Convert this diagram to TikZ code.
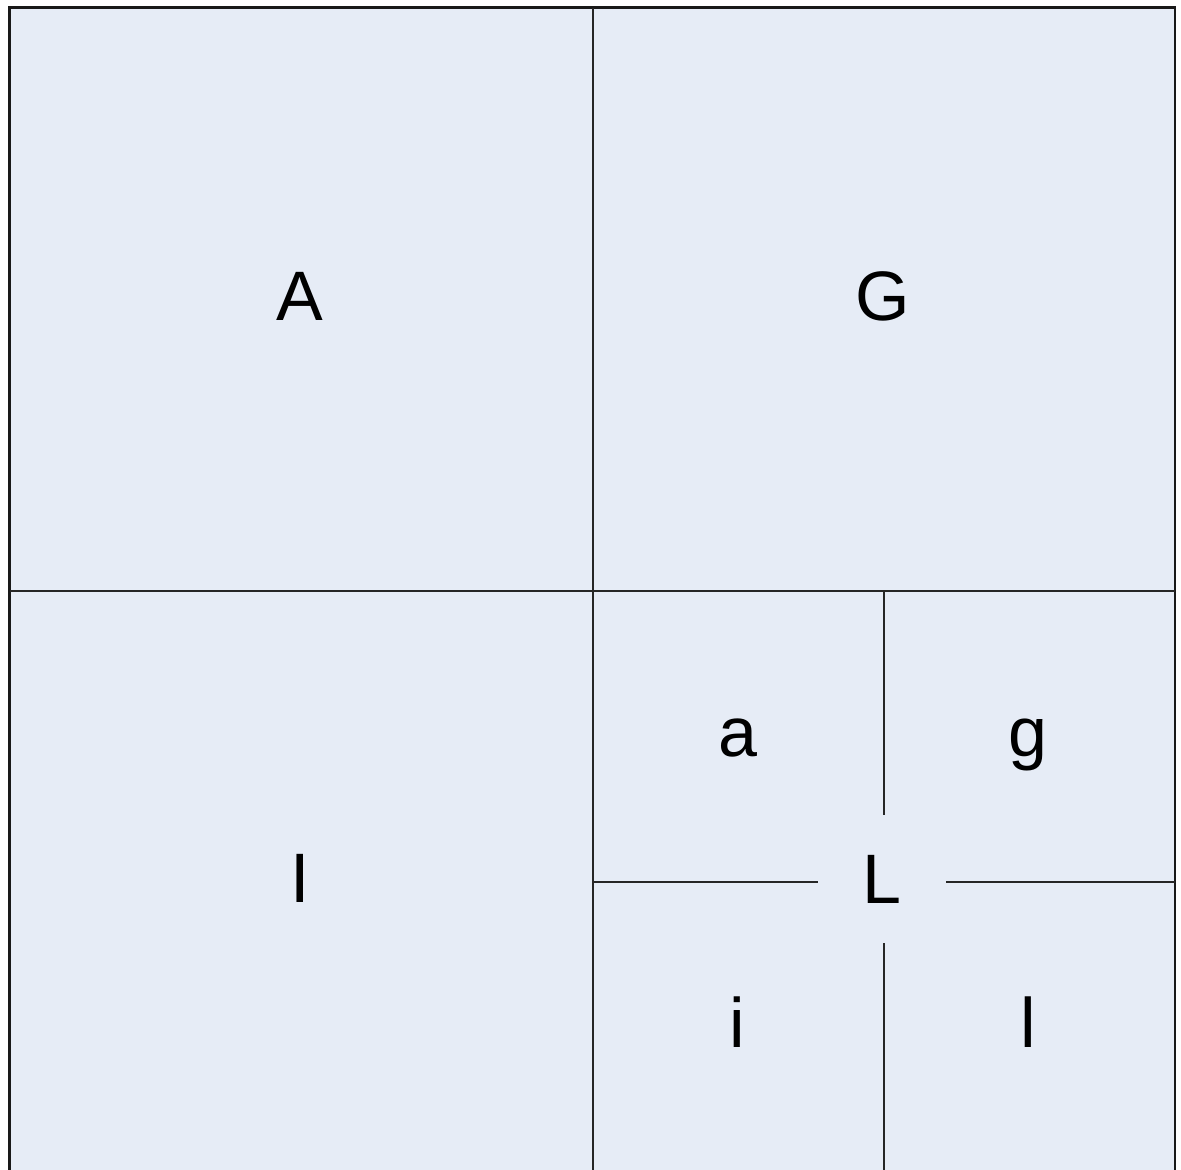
\documentclass[tikz,border=0pt]{standalone}
\usepackage{fontspec}
\setmainfont{Liberation Sans}
\usetikzlibrary{positioning}

\definecolor{panelblue}{RGB}{230,236,246}

\tikzset{
  letter/.style={anchor=base, inner sep=0pt, font=\fontsize{35}{42}\selectfont},
  divider/.style={line width=0.8pt, draw=black!85}
}

\begin{document}
\begin{tikzpicture}[x=0.5pt, y=-0.5pt]

\useasboundingbox (0,0) rectangle (1181,1169);
\clip (0,0) rectangle (1181,1169);
\fill[white] (0,0) rectangle (1181,1169);

% ---- Outer square -----------------------------------------------------
\draw[draw=black!90, fill=panelblue, line width=1.2pt] (9.5,7.5) rectangle (1175,1190);
\draw[divider] (593,7.5) -- (593,1190);
\draw[divider] (9.5,591) -- (1175,591);

% ---- Inner square -----------------------------------------------------
\draw[divider] (884,591) -- (884,1190);
\draw[divider] (593,882) -- (1175,882);
\node[letter, anchor=center, fill=panelblue, minimum size=64pt] (lat) at (882,879) {L};

% ---- Letters ----------------------------------------------------------
\node[letter] (adapt) at (300,320) {A};
\node[letter] (goal)  at (883,320) {G};
\node[letter] (integ) at (300,902) {I};

\node[letter] (suba) at (737.5,756) {a};
\node[letter] (subg) at (1027.5,756) {g};
\node[letter] (subi) at (737,1047) {i};
\node[letter] (subl) at (1028,1047) {l};

\end{tikzpicture}
\end{document}
